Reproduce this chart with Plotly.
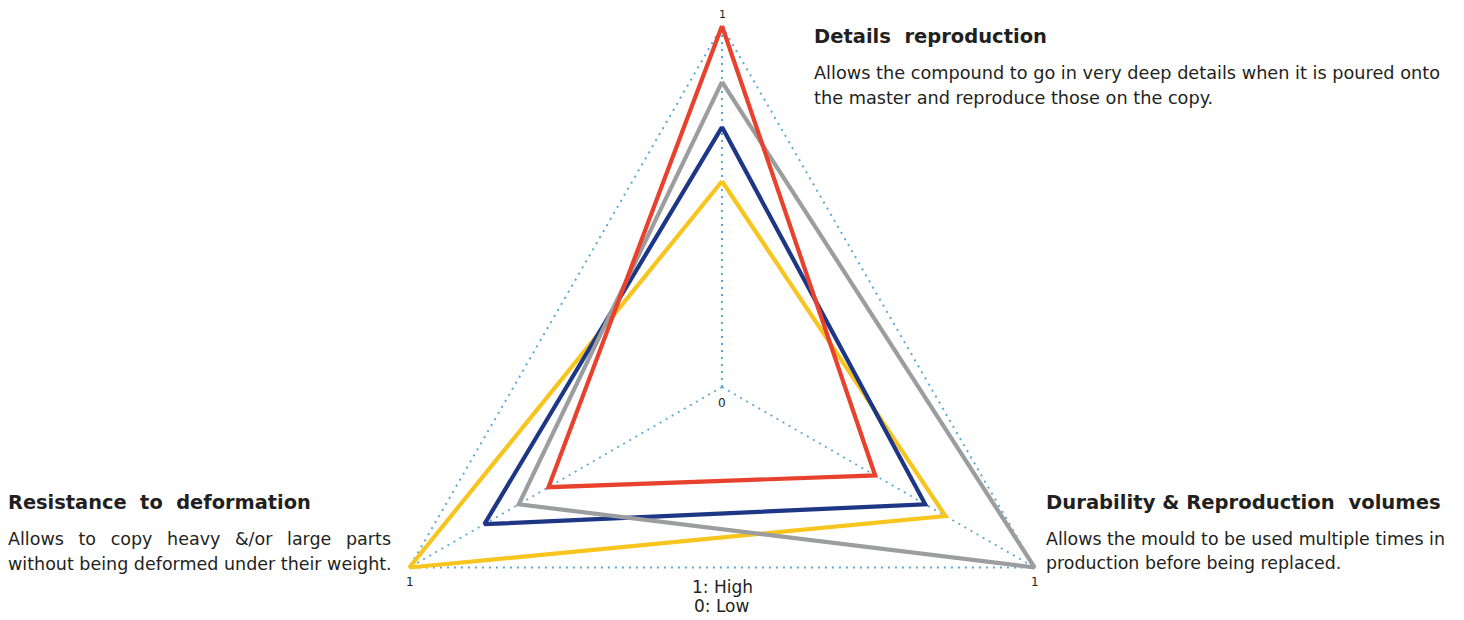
import math
import plotly.graph_objects as go

W, H = 1464, 620
OFF = 8  # page body margin in the browser

categories = ["Details reproduction", "Durability & Reproduction volumes", "Resistance to deformation"]
red_vals = [1.0, 0.49, 0.555]
gray_vals = [0.845, 1.0, 0.65]
navy_vals = [0.72, 0.65, 0.76]
yellow_vals = [0.57, 0.715, 1.0]
scale_max = 1.0
tick_top = "1"
tick_zero = "0"

series = [
    ("yellow", yellow_vals, "#f8c51f"),
    ("navy", navy_vals, "#1d3685"),
    ("gray", gray_vals, "#9c9d9f"),
    ("red", red_vals, "#e8412e"),
]

GRID = "#5ba8d4"
FONT = "DejaVu Sans"
TXT = "#231f20"

# radar scale: each category is a spoke, clockwise from the top
n = len(categories)
angles = [math.radians(90 - 360.0 / n * i) for i in range(n)]


def radar_xy(vals):
    xs = [v / scale_max * math.cos(a) for v, a in zip(vals, angles)]
    ys = [v / scale_max * math.sin(a) for v, a in zip(vals, angles)]
    return xs + xs[:1], ys + ys[:1]


fig = go.Figure()

# spokes
for a in angles:
    fig.add_trace(go.Scatter(
        x=[0, math.cos(a)], y=[0, math.sin(a)], mode="lines",
        line=dict(color=GRID, width=2, dash="2px,5px"),
        hoverinfo="skip", showlegend=False))

# outer frame at max value
fx, fy = radar_xy([scale_max] * n)
fig.add_trace(go.Scatter(x=fx, y=fy, mode="lines",
                         line=dict(color=GRID, width=2, dash="2px,5px"),
                         hoverinfo="skip", showlegend=False))

for name, vals, col in series:
    xs, ys = radar_xy(vals)
    fig.add_trace(go.Scatter(
        x=xs, y=ys, mode="lines", name=name,
        line=dict(color=col, width=4.2), showlegend=False))

# geometry: centre of radar at screen (722, 387), radius 361 px
R = 361.0
cx, cy = 722 - OFF, 387 - OFF
fig.update_layout(
    width=W, height=H,
    margin=dict(l=0, r=0, t=0, b=0),
    paper_bgcolor="white", plot_bgcolor="white",
    xaxis=dict(range=[-cx / R, (W - cx) / R], visible=False, fixedrange=True),
    yaxis=dict(range=[-(H - cy) / R, cy / R], visible=False, fixedrange=True),
    font=dict(family=FONT, color=TXT),
)


def ann(text, x, y, size, xanchor="left", bold=False, color=TXT):
    fig.add_annotation(
        text=("<b>%s</b>" % text) if bold else text,
        x=(x - OFF) / W, y=1 - (y - OFF) / H, xref="paper", yref="paper",
        xanchor=xanchor, yanchor="middle", showarrow=False,
        font=dict(family=FONT, size=size, color=color))


GAP = " &nbsp;\u2009"

ann("Details&nbsp; reproduction", 812, 36, 19.5, bold=True)
ann("Allows the compound to go in very deep details when it is poured onto", 812, 73, 17.7)
ann("the master and reproduce those on the copy.", 812, 98, 17.7)

ann("Resistance&nbsp; to&nbsp; deformation", 6, 502, 19.4, bold=True)
ann(GAP.join(["Allows", "to", "copy", "heavy", "&/or", "large", "parts"]), 6, 539, 17.5)
ann("without being deformed under their weight.", 6, 564, 17.5)

ann("Durability & Reproduction&nbsp; volumes", 1044, 502, 19.6, bold=True)
ann("Allows the mould to be used multiple times in", 1044, 539, 17.4)
ann("production before being replaced.", 1044, 563, 17.4)

ann(tick_top, 722, 15, 11, xanchor="center")
ann(tick_top, 410, 582, 12, xanchor="center")
ann(tick_top, 1035, 582, 12, xanchor="center")
ann(tick_zero, 722, 403, 12, xanchor="center")
ann("1: High", 722, 587, 17, xanchor="center")
ann("0: Low", 722, 606, 17, xanchor="center")

fig.write_html("out.html")
